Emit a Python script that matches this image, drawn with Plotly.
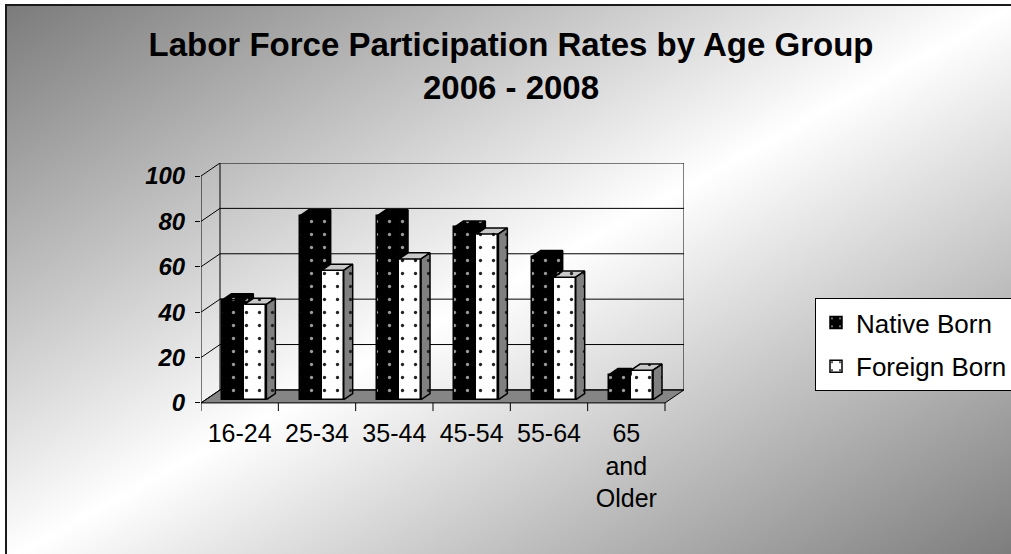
import base64
import plotly.graph_objects as go

# ---- data ----
categories = ["16-24", "25-34", "35-44", "45-54", "55-64", "65<br>and<br>Older"]
native_born = [44, 81, 81, 76, 63, 11]
foreign_born = [42, 57, 62, 73, 54, 13]
y_ticks = [0, 20, 40, 60, 80, 100]

# ---- page / plot-area geometry (pixels) ----
W, H = 1011, 554
L, R, T, B = 201, 684, 163, 412
PW, PH = R - L, B - T
N = len(categories)
Y_LOW = -4                      # room below zero for the category tick marks
DEPTH_PX = (19, 13)             # projected wall depth

DX = DEPTH_PX[0] * N / (PW - DEPTH_PX[0])
DY = DEPTH_PX[1] * (100 - Y_LOW) / (PH - DEPTH_PX[1])
X_RANGE = [-0.5, N - 0.5 + DX]
Y_RANGE = [Y_LOW, 100 + DY]
PX_PER_CAT = PW / (N + DX)

FRONT = 0.25                    # depth of bar front faces (fraction of wall depth)
BAR_DEPTH = 0.47                # bar depth (fraction of wall depth)
BAR_W = 22 / PX_PER_CAT
BDX, BDY = BAR_DEPTH * DX, BAR_DEPTH * DY
BASE = FRONT * DY


def px_x(p):
    return (p - L) / PW


def px_y(p):
    return (B - p) / PH


def dots(bg, fg):
    return dict(shape=".", bgcolor=bg, fgcolor=fg, size=13, solidity=0.05, fillmode="replace")


def face(xs, ys, bg, fg):
    return go.Scatter(
        x=xs + [xs[0]], y=ys + [ys[0]], mode="lines", fill="toself", fillcolor=bg,
        fillpattern=dots(bg, fg), line=dict(color="black", width=1.5),
        hoverinfo="skip", showlegend=False,
    )


x_native = [i + FRONT * DX - BAR_W / 2 for i in range(N)]
x_foreign = [i + FRONT * DX + BAR_W / 2 for i in range(N)]

fig = go.Figure()

fig.add_trace(go.Bar(
    x=x_native, y=native_born, base=BASE, width=BAR_W, name="Native Born",
    marker=dict(color="black", line=dict(color="black", width=1.5),
                pattern=dots("black", "#9a9a9a")),
    legendgroup="n",
))
fig.add_trace(go.Bar(
    x=x_foreign, y=foreign_born, base=BASE, width=BAR_W, name="Foreign Born",
    marker=dict(color="white", line=dict(color="black", width=1.5),
                pattern=dots("white", "#222222")),
    legendgroup="f",
))

# 3-D top and side faces of each bar pair
for i in range(N):
    x0 = x_native[i] - BAR_W / 2
    x1 = x_native[i] + BAR_W / 2
    x2 = x_foreign[i] + BAR_W / 2
    nt = BASE + native_born[i]
    ft = BASE + foreign_born[i]
    if ft > nt:
        fig.add_trace(face([x0, x1, x1, x0 + BDX], [nt, nt, nt + BDY, nt + BDY], "black", "#9a9a9a"))
    else:
        fig.add_trace(face([x0, x1, x1 + BDX, x0 + BDX], [nt, nt, nt + BDY, nt + BDY], "black", "#9a9a9a"))
        fig.add_trace(face([x1, x1, x1 + BDX, x1 + BDX], [ft, nt, nt + BDY, ft + BDY], "black", "#9a9a9a"))
    fig.add_trace(face([x1, x2, x2 + BDX, x1 + BDX], [ft, ft, ft + BDY, ft + BDY], "#c8c8c8", "#222222"))
    fig.add_trace(face([x2, x2, x2 + BDX, x2 + BDX], [BASE, ft, ft + BDY, BASE + BDY], "#808080", "#222222"))

# ---- walls, floor and grid ----
shapes = []
xl, xr = X_RANGE[0], N - 0.5
line_k = dict(color="black", width=1)
# floor
shapes.append(dict(type="path", xref="x", yref="y", layer="below",
                   path=f"M{xl},0 L{xr},0 L{xr + DX},{DY} L{xl + DX},{DY} Z",
                   fillcolor="#858585", line=dict(color="black", width=1)))
for v in y_ticks:
    # back wall gridline
    shapes.append(dict(type="line", xref="x", yref="y", layer="below",
                       x0=xl + DX, x1=xr + DX, y0=v + DY, y1=v + DY, line=line_k))
    # side wall gridline
    shapes.append(dict(type="line", xref="x", yref="y", layer="below",
                       x0=xl, x1=xl + DX, y0=v, y1=v + DY, line=line_k))
# back wall edges
shapes.append(dict(type="line", xref="x", yref="y", layer="below",
                   x0=xl + DX, x1=xl + DX, y0=DY, y1=100 + DY, line=line_k))
shapes.append(dict(type="line", xref="x", yref="y", layer="below",
                   x0=xr + DX, x1=xr + DX, y0=DY, y1=100 + DY, line=line_k))
# front value axis
shapes.append(dict(type="line", xref="x", yref="y", layer="below",
                   x0=xl, x1=xl, y0=0, y1=100, line=line_k))
# category boundary ticks
for i in range(N + 1):
    shapes.append(dict(type="line", xref="x", yref="y", layer="below",
                       x0=i - 0.5, x1=i - 0.5, y0=0, y1=Y_LOW * 0.9, line=line_k))
# chart-area border
shapes.append(dict(type="rect", xref="paper", yref="paper", layer="below",
                   x0=px_x(6), x1=px_x(W + 6), y0=px_y(5), y1=px_y(H + 6),
                   line=dict(color="#1a1a1a", width=2), fillcolor="rgba(0,0,0,0)"))

# diagonal grey-white-grey background
bw, bh = W + 6 - 6, H + 6 - 5
svg = (
    f'<svg xmlns="http://www.w3.org/2000/svg" width="{bw}" height="{bh}" '
    f'viewBox="0 0 {bw} {bh}" preserveAspectRatio="none">'
    '<defs><linearGradient id="g" x1="0" y1="0" x2="1" y2="1">'
    '<stop offset="0" stop-color="#7b7b7b"/><stop offset="0.5" stop-color="#ffffff"/>'
    '<stop offset="1" stop-color="#7b7b7b"/></linearGradient></defs>'
    f'<rect width="{bw}" height="{bh}" fill="url(#g)"/></svg>'
)
bg_src = "data:image/svg+xml;base64," + base64.b64encode(svg.encode()).decode()

FONT = "Liberation Sans, Arial, sans-serif"

fig.update_layout(
    width=W, height=H,
    margin=dict(l=L, r=W - R, t=T, b=H - B, autoexpand=False),
    paper_bgcolor="white", plot_bgcolor="rgba(0,0,0,0)",
    barmode="overlay", bargap=0,
    shapes=shapes,
    images=[dict(source=bg_src, xref="paper", yref="paper", x=px_x(6), y=px_y(5),
                 sizex=bw / PW, sizey=bh / PH, xanchor="left", yanchor="top",
                 sizing="stretch", layer="below")],
    title=dict(text="Labor Force Participation Rates by Age Group<br>2006 - 2008",
               font=dict(family=FONT, size=33, color="black", weight="bold"),
               x=511 / W, xanchor="center", y=1 - 56 / H, yanchor="top"),
    xaxis=dict(range=X_RANGE, tickvals=list(range(N)), ticktext=categories,
               showgrid=False, zeroline=False, showline=False, ticks="",
               tickfont=dict(family=FONT, size=25, color="black"), ticklabelstandoff=4),
    yaxis=dict(range=Y_RANGE, tickvals=y_ticks, showgrid=False, zeroline=False,
               showline=False, ticks="outside", ticklen=5, tickcolor="black", tickwidth=1,
               tickfont=dict(family=FONT, size=24, color="black", weight="bold", style="italic"),
               ticklabelstandoff=5),
    legend=dict(x=px_x(815), y=px_y(298), xanchor="left", yanchor="top",
                bgcolor="white", bordercolor="black", borderwidth=1,
                font=dict(family=FONT, size=26, color="black"),
                tracegroupgap=7, itemwidth=30),
    showlegend=True,
)

fig.write_html("out.html")
